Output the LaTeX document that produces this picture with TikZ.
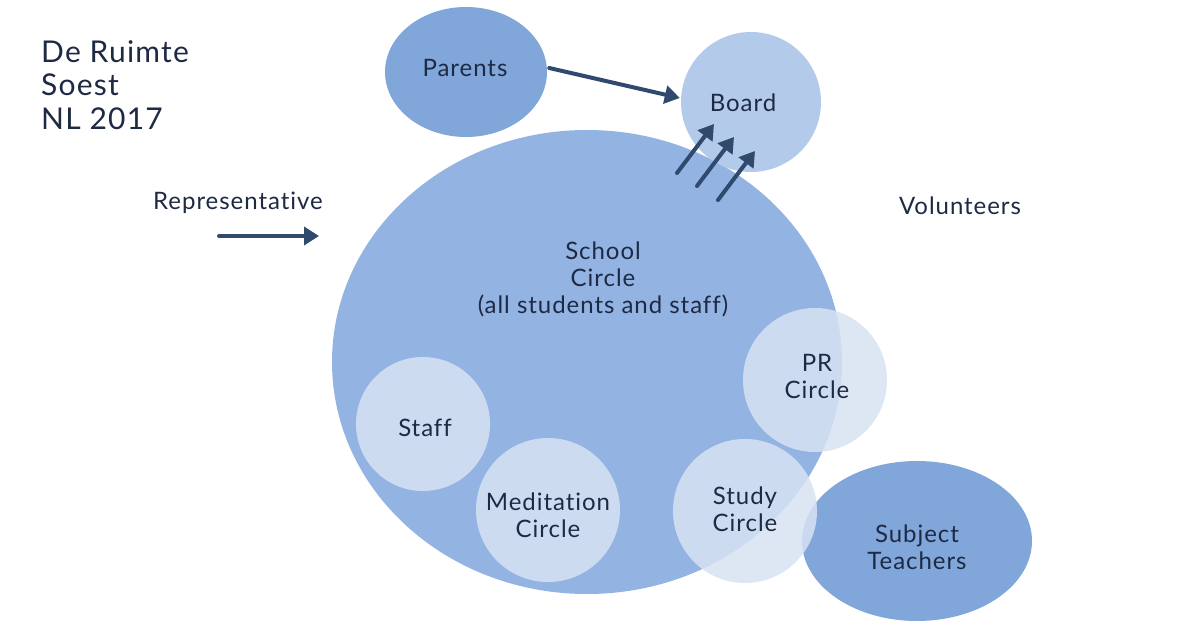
\documentclass[tikz,border=0pt]{standalone}
\usepackage{fontspec}
\setmainfont{Lato}[LetterSpace=4,Ligatures=NoCommon]
\usetikzlibrary{arrows.meta,calc,shapes.geometric}
\definecolor{navy}{HTML}{2F4A6D}
\definecolor{txt}{HTML}{1E2A44}
\definecolor{midblue}{HTML}{80A6DA}
\definecolor{bigblue}{HTML}{93B3E2}
\definecolor{boardblue}{HTML}{B4CAEA}
\definecolor{lightblue}{HTML}{D8E3F3}
\begin{document}
\begin{tikzpicture}[x=1pt,y=-1pt,
  lbl/.style={text=txt,font=\fontsize{24}{27}\selectfont,align=center,inner sep=0pt},
  arr/.style={draw=navy,line width=4pt,line cap=round,-{Triangle[length=15pt,width=18pt]}},
  oval/.style={ellipse,inner sep=0pt,draw=none},
  subc/.style={circle,inner sep=0pt,fill=lightblue,fill opacity=0.85,minimum size=144pt}]
\useasboundingbox (0,0) rectangle (1200,628);
\fill[white] (0,0) rectangle (1200,628);
% shapes
\node[oval,fill=bigblue,minimum width=510pt,minimum height=464pt] (school) at (587,362) {};
\node[oval,fill=midblue,minimum width=230pt,minimum height=160pt] (subject) at (917,541) {};
\node[oval,fill=midblue,minimum width=162pt,minimum height=130pt] (parents) at (466,72) {};
\node[circle,inner sep=0pt,fill=boardblue,minimum size=140pt] (board) at (751,102) {};
% arrows
\draw[arr] ($(parents.east)+(2,-4)$) -- ($(board.west)+(-1,-4)$);
\coordinate (s1) at (677,173); \coordinate (e1) at (714,124);
\coordinate (s2) at (697,186); \coordinate (e2) at (734,137);
\coordinate (s3) at (718,200); \coordinate (e3) at (755,151);
\draw[arr] (s1) -- (e1);
\draw[arr] (s2) -- (e2);
\draw[arr] (s3) -- (e3);
\coordinate (r1) at (219,236); \coordinate (r2) at (319,236);
\draw[arr] (r1) -- (r2);
% sub circles
\node[subc,minimum size=134pt] (staff) at (423,424) {};
\node[subc] (meditation) at (548,510) {};
\node[subc] (study) at (745,511) {};
\node[subc] (pr) at (815,380) {};
% texts
\node[text=txt,font=\fontsize{30}{33.5}\selectfont,align=left,anchor=north west,inner sep=0pt] (title) at (41,40) {De Ruimte\\Soest\\NL 2017};
\node[lbl] (parents-t) at (465,68) {Parents};
\node[lbl] (board-t) at (743,103) {Board};
\node[lbl] (rep-t) at (238,203) {Representative};
\node[lbl] (vol-t) at (960,206) {Volunteers};
\node[lbl] (school-t) at (603,279) {School\\Circle\\(all students and staff)};
\node[lbl] (pr-t) at (817,376) {PR\\Circle};
\node[lbl] (staff-t) at (425,428) {Staff};
\node[lbl] (med-t) at (548,515) {Meditation\\Circle};
\node[lbl] (study-t) at (745,509) {Study\\Circle};
\node[lbl] (subj-t) at (917,547) {Subject\\Teachers};
\end{tikzpicture}
\end{document}
